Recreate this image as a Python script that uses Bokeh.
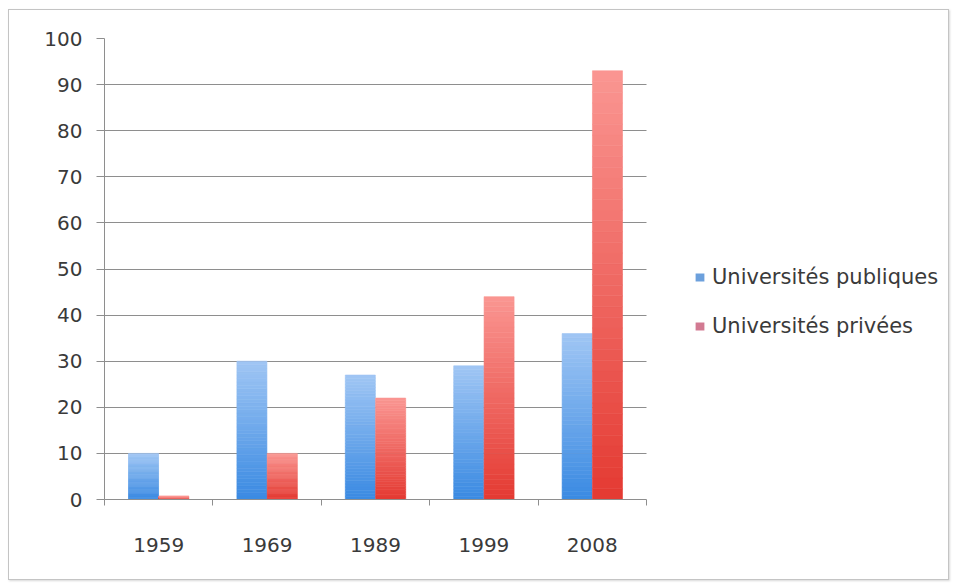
from bokeh.plotting import figure
from bokeh.models import (Range1d, FixedTicker, Legend, LegendItem, ColumnDataSource)
from bokeh.embed import file_html
from bokeh.resources import INLINE

# ---- data ----
years = ["1959", "1969", "1989", "1999", "2008"]
publiques = [10, 30, 27, 29, 36]
privees = [0.7, 10, 22, 44, 93]
series_names = ["Universités publiques", "Universités privées"]

# gradient colours (bottom, top) per series
blue_bottom, blue_top = (58, 138, 226), (160, 198, 244)
red_bottom, red_top = (228, 58, 50), (250, 150, 146)
legend_colors = ["#6ca0dc", "#d27a92"]

TXT = "#3a3a3a"
GRID = "#8e8e8e"
FONT = "DejaVu Sans"

W, H = 941, 571
ML, MR, MT, MB = 95, 10, 28, 82
plot_px = 542  # pixel width given to the five categories
frame_w = W - ML - MR
x_end = len(years) * frame_w / plot_px

p = figure(width=W, height=H, output_backend="svg", toolbar_location=None,
           x_range=Range1d(0, x_end), y_range=Range1d(0, 100),
           min_border_left=ML, min_border_top=MT, min_border_bottom=MB,
           min_border_right=MR,
           styles={"border": "1px solid #c4c4c4", "box-shadow": "1px 1px 2px #d8d8d8",
                   "margin": "9px 0 0 8px"})
p.outline_line_color = None
p.background_fill_color = "white"
p.border_fill_color = "white"

N = 40


def mix(c0, c1, t):
    return "#%02x%02x%02x" % tuple(int(round(a + (b - a) * t)) for a, b in zip(c0, c1))


bar_w = 0.277
offsets = [-0.14, 0.14]
colors = [(blue_bottom, blue_top), (red_bottom, red_top)]
legend_renderers = []
for s, vals in enumerate([publiques, privees]):
    xs, bots, tops, cols = [], [], [], []
    cb, ct = colors[s]
    for i, v in enumerate(vals):
        for k in range(N):
            xs.append(i + 0.5 + offsets[s])
            bots.append(v * k / N)
            tops.append(v * (k + 1) / N)
            cols.append(mix(cb, ct, (k + 0.5) / N))
    src = ColumnDataSource(dict(x=xs, bottom=bots, top=tops, c=cols))
    p.vbar(x="x", bottom="bottom", top="top", width=bar_w, source=src,
           fill_color="c", line_color="c", line_width=0.6)
    # legend proxy, placed outside the visible range
    lr = p.vbar(x=[-10], top=[0], width=bar_w, fill_color=legend_colors[s],
                line_color=None)
    legend_renderers.append(lr)

# y axis
p.yaxis.ticker = FixedTicker(ticks=list(range(0, 101, 10)))
p.yaxis.axis_line_color = GRID
p.yaxis.major_tick_line_color = GRID
p.yaxis.major_tick_out = 8
p.yaxis.major_tick_in = 0
p.yaxis.minor_tick_line_color = None
p.yaxis.major_label_text_font = FONT
p.yaxis.major_label_text_font_size = "20px"
p.yaxis.major_label_text_color = TXT
p.yaxis.major_label_standoff = 14

# x axis
centers = [i + 0.5 for i in range(len(years))]
p.xaxis.ticker = FixedTicker(ticks=centers, minor_ticks=list(range(len(years) + 1)))
p.xaxis.major_label_overrides = {c: y for c, y in zip(centers, years)}
p.xaxis.bounds = (0, len(years))
p.xaxis.axis_line_color = GRID
p.xaxis.major_tick_line_color = None
p.xaxis.minor_tick_line_color = GRID
p.xaxis.minor_tick_out = 6
p.xaxis.minor_tick_in = 0
p.xaxis.major_label_text_font = FONT
p.xaxis.major_label_text_font_size = "20px"
p.xaxis.major_label_text_color = TXT
p.xaxis.major_label_standoff = 32

p.xgrid.grid_line_color = None
p.ygrid.grid_line_color = GRID
p.ygrid.grid_line_width = 1.2
p.ygrid.cross_bounds = (0, len(years))

legend = Legend(items=[LegendItem(label=series_names[i], renderers=[legend_renderers[i]])
                       for i in range(2)],
                location=(590, 161), orientation="vertical",
                glyph_width=11, glyph_height=10, label_standoff=7,
                label_height=24, spacing=25, padding=0, margin=0,
                label_text_font=FONT, label_text_font_size="21px",
                label_text_color=TXT, border_line_color=None,
                background_fill_alpha=0)
p.add_layout(legend, "center")

open("out.html", "w").write(file_html(p, INLINE))
